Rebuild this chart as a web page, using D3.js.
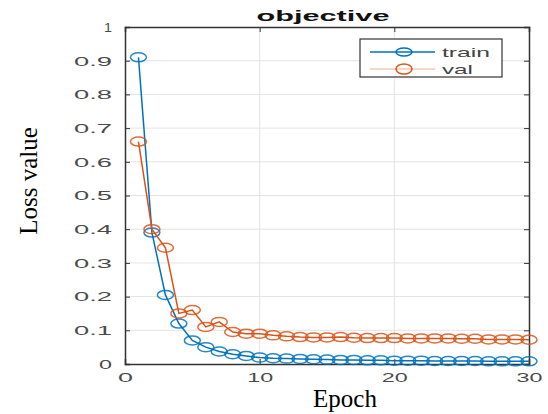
<!DOCTYPE html>
<html><head><meta charset="utf-8">
<script src="https://cdn.jsdelivr.net/npm/d3@7"></script>
<style>body{margin:0;background:#fff}svg{display:block}</style>
</head><body>
<svg id="c" width="548" height="414"></svg>
<script>
const epochs = d3.range(1, 31);
const trainLoss = [0.91,0.39,0.205,0.12,0.07,0.05,0.037,0.029,0.024,0.019,0.017,0.016,0.015,0.014,0.013,0.012,0.012,0.011,0.011,0.010,0.010,0.010,0.009,0.009,0.009,0.009,0.008,0.008,0.008,0.008];
const valLoss = [0.66,0.40,0.345,0.15,0.16,0.11,0.125,0.095,0.09,0.09,0.085,0.082,0.08,0.079,0.079,0.08,0.078,0.077,0.077,0.077,0.076,0.076,0.076,0.076,0.075,0.075,0.073,0.073,0.073,0.072];
const xTicks = [0,10,20,30];
const yTicks = [0,0.1,0.2,0.3,0.4,0.5,0.6,0.7,0.8,0.9,1];
const seriesNames = ["train","val"];
const colors = ["#0072BD","#D95319"];

const svg = d3.select("#c");
const L=125, R=529, T=27, B=364;
const x = d3.scaleLinear().domain([0,30]).range([L,R]);
const y = d3.scaleLinear().domain([0,1]).range([B,T]);
const sans = "Liberation Sans, Arial, sans-serif";
const serif = "Liberation Serif, Times New Roman, serif";

// grid
const g = svg.append("g");
g.selectAll(".gx").data(xTicks.slice(1,-1)).join("line")
  .attr("x1",d=>x(d)).attr("x2",d=>x(d)).attr("y1",T).attr("y2",B)
  .attr("stroke","#e3e3e3").attr("stroke-width",1);
g.selectAll(".gy").data(yTicks.slice(1,-1)).join("line")
  .attr("y1",d=>y(d)).attr("y2",d=>y(d)).attr("x1",L).attr("x2",R)
  .attr("stroke","#e3e3e3").attr("stroke-width",1);

// axes
const axCol="#333";
const yfmt = d=>d===0||d===1?d3.format("d")(d):d3.format(".1f")(d);
const xa = svg.append("g").attr("transform",`translate(0,${B})`)
  .call(d3.axisBottom(x).tickValues(xTicks).tickSize(-5).tickFormat(d3.format("d")));
const xt = svg.append("g").attr("transform",`translate(0,${T})`)
  .call(d3.axisTop(x).tickValues(xTicks).tickSize(-5).tickFormat(""));
const ya = svg.append("g").attr("transform",`translate(${L},0)`)
  .call(d3.axisLeft(y).tickValues(yTicks).tickSize(-5).tickPadding(13).tickFormat(yfmt));
const yr = svg.append("g").attr("transform",`translate(${R},0)`)
  .call(d3.axisRight(y).tickValues(yTicks).tickSize(-5).tickFormat(""));
[xa,xt,ya,yr].forEach(a=>{
  a.select(".domain").attr("stroke",axCol).attr("stroke-width",1.5);
  a.selectAll(".tick line").attr("stroke",axCol).attr("stroke-width",1);
  a.selectAll("text").attr("fill","#4a4a4a").style("font-family",sans)
    .style("font-size","12px").attr("lengthAdjust","spacingAndGlyphs");
});
xa.selectAll("text").attr("y",18).attr("dy",0)
  .attr("textLength",d=>String(d).length===1?15:26);
ya.selectAll("text").attr("dy","0.36em")
  .attr("textLength",d=>{const s=yfmt(d);return s.length===3?38:(s==="1"?8:13);});

// lines
const data=[trainLoss,valLoss];
data.forEach((vals,i)=>{
  const pts = epochs.map((e,j)=>[e,vals[j]]);
  svg.append("path").datum(pts)
    .attr("d",d3.line().x(d=>x(d[0])).y(d=>y(d[1])))
    .attr("fill","none").attr("stroke",colors[i]).attr("stroke-width",1.5);
  svg.append("g").selectAll("ellipse").data(pts).join("ellipse")
    .attr("cx",d=>x(d[0])).attr("cy",d=>y(d[1])).attr("rx",8).attr("ry",4.5)
    .attr("fill","none").attr("stroke",colors[i]).attr("stroke-width",1.5).attr("opacity",0.85);
});

// legend
const lg = svg.append("g");
lg.append("rect").attr("x",360).attr("y",39).attr("width",142).attr("height",38)
  .attr("fill","#fff").attr("stroke","#333").attr("stroke-width",1.2);
seriesNames.forEach((n,i)=>{
  const yy = 52+i*17;
  lg.append("line").attr("x1",370).attr("x2",435).attr("y1",yy).attr("y2",yy)
    .attr("stroke",colors[i]).attr("stroke-width",1.5).attr("opacity",i===1?0.3:1);
  lg.append("ellipse").attr("cx",404).attr("cy",yy).attr("rx",8).attr("ry",i===1?5:4)
    .attr("fill","none").attr("stroke",colors[i]).attr("stroke-width",1.5);
  lg.append("text").attr("x",442).attr("y",yy+5).text(n)
    .attr("fill","#444").style("font-family",sans).style("font-size","13px")
    .attr("textLength",i===0?48:31).attr("lengthAdjust","spacingAndGlyphs");
});

// title & labels
svg.append("text").attr("x",323).attr("y",21).attr("text-anchor","middle").text("objective")
  .style("font-family",sans).style("font-weight","bold")
  .style("font-size","14px").attr("fill","#111")
  .attr("textLength",133).attr("lengthAdjust","spacingAndGlyphs");
svg.append("text").attr("x",345).attr("y",407).attr("text-anchor","middle").text("Epoch")
  .style("font-family",serif).style("font-size","25px").attr("fill","#000");
svg.append("text").attr("transform","translate(37,181) rotate(-90)").attr("text-anchor","middle").text("Loss value")
  .style("font-family",serif).style("font-size","25px").attr("fill","#000");
</script>
</body></html>
